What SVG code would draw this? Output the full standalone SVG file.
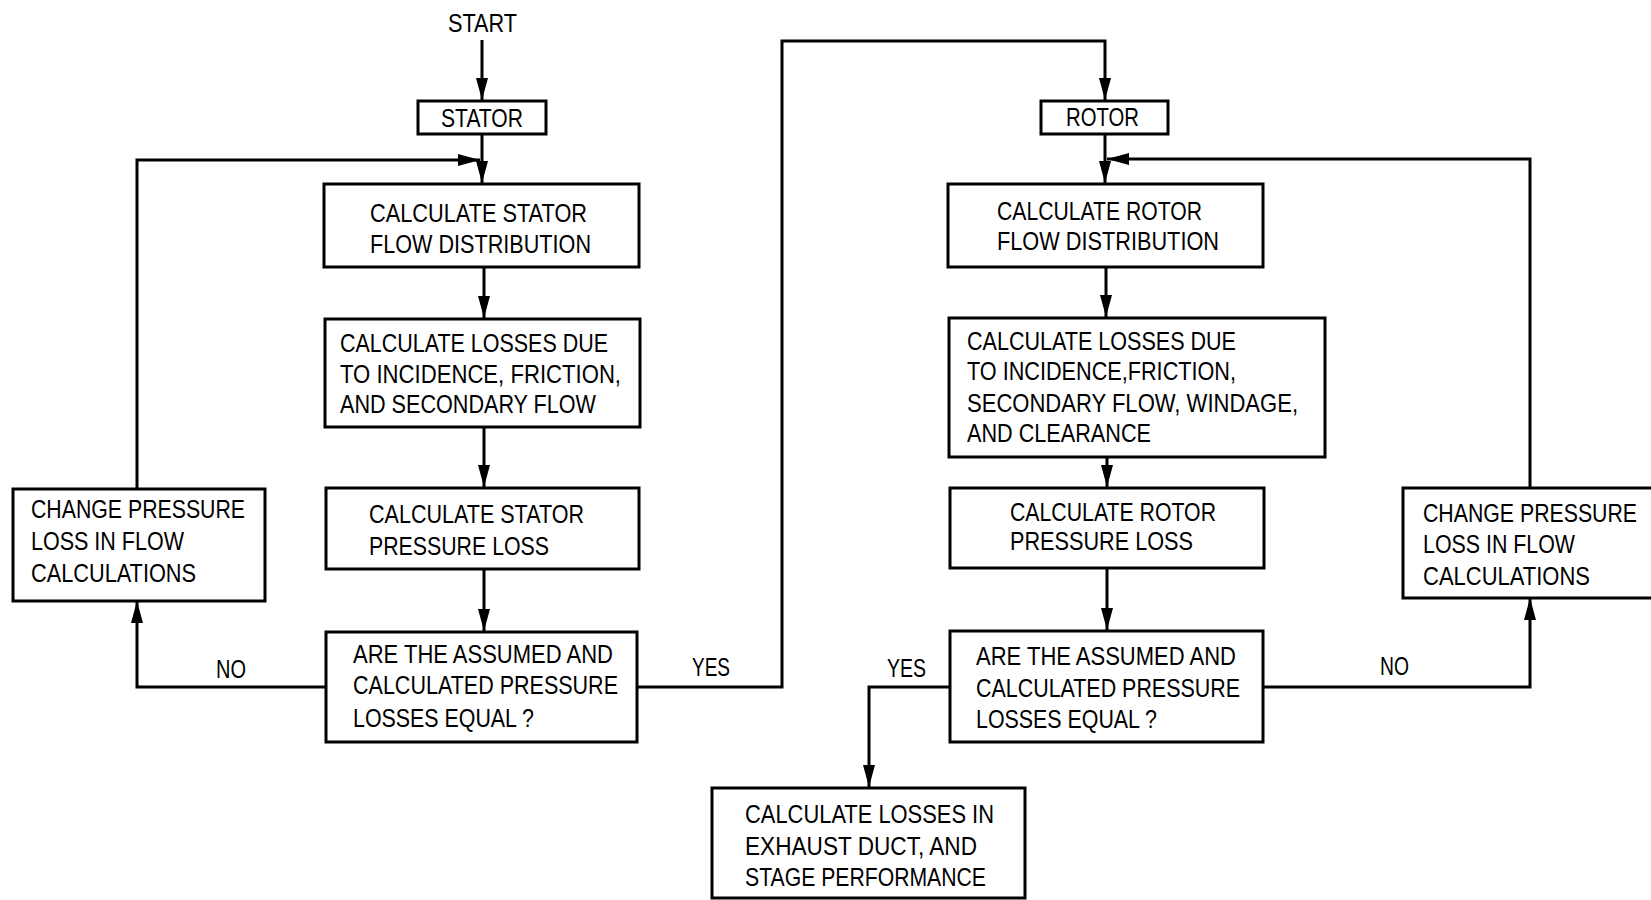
<svg xmlns="http://www.w3.org/2000/svg" width="1651" height="900" viewBox="0 0 1651 900">
<style>
.box{fill:#fff;stroke:#000;stroke-width:3}
.t{font-family:"Liberation Sans",Arial,sans-serif;font-size:26px;fill:#000}
.c{fill:none;stroke:#000;stroke-width:3;stroke-linejoin:miter}
</style>
<defs>
<marker id="ah" viewBox="0 0 22 12" markerWidth="22" markerHeight="12" refX="22" refY="6" orient="auto" markerUnits="userSpaceOnUse">
<path d="M0,0 L22,6 L0,12 Z" fill="#000"/>
</marker>
</defs>
<rect width="1651" height="900" fill="#fff"/>
<g id="connectors">
<path class="c" d="M482,40 V100" marker-end="url(#ah)"/>
<path class="c" d="M482,134 V183" marker-end="url(#ah)"/>
<path class="c" d="M137,489 V160 H480" marker-end="url(#ah)"/>
<path class="c" d="M484,267 V318" marker-end="url(#ah)"/>
<path class="c" d="M484,427 V487" marker-end="url(#ah)"/>
<path class="c" d="M484,569 V631" marker-end="url(#ah)"/>
<path class="c" d="M326,687 H137 V601" marker-end="url(#ah)"/>
<path class="c" d="M637,687 H782 V41 H1105 V100" marker-end="url(#ah)"/>
<path class="c" d="M1105,134 V183" marker-end="url(#ah)"/>
<path class="c" d="M1530,488 V159 H1107" marker-end="url(#ah)"/>
<path class="c" d="M1106,267 V317" marker-end="url(#ah)"/>
<path class="c" d="M1107,457 V487" marker-end="url(#ah)"/>
<path class="c" d="M1107,568 V630" marker-end="url(#ah)"/>
<path class="c" d="M950,687 H869 V787" marker-end="url(#ah)"/>
<path class="c" d="M1263,687 H1530 V598" marker-end="url(#ah)"/>
</g>
<g id="labels">
<text class="t" x="448" y="32" textLength="69" lengthAdjust="spacingAndGlyphs">START</text>
<text class="t" x="216" y="678" textLength="30" lengthAdjust="spacingAndGlyphs">NO</text>
<text class="t" x="692" y="676" textLength="38" lengthAdjust="spacingAndGlyphs">YES</text>
<text class="t" x="887" y="677" textLength="39" lengthAdjust="spacingAndGlyphs">YES</text>
<text class="t" x="1380" y="675" textLength="29" lengthAdjust="spacingAndGlyphs">NO</text>
</g>
<g id="stator">
<rect class="box" x="418" y="101" width="128" height="33"/>
<text class="t" x="441" y="127" textLength="82" lengthAdjust="spacingAndGlyphs">STATOR</text>
</g>
<g id="stator-flow">
<rect class="box" x="324" y="184" width="315" height="83"/>
<text class="t" x="370" y="222" textLength="217" lengthAdjust="spacingAndGlyphs">CALCULATE STATOR</text>
<text class="t" x="370" y="253" textLength="221" lengthAdjust="spacingAndGlyphs">FLOW DISTRIBUTION</text>
</g>
<g id="stator-losses">
<rect class="box" x="325" y="319" width="315" height="108"/>
<text class="t" x="340" y="352" textLength="268" lengthAdjust="spacingAndGlyphs">CALCULATE LOSSES DUE</text>
<text class="t" x="340" y="383" textLength="281" lengthAdjust="spacingAndGlyphs">TO INCIDENCE, FRICTION,</text>
<text class="t" x="340" y="413" textLength="256" lengthAdjust="spacingAndGlyphs">AND SECONDARY FLOW</text>
</g>
<g id="stator-pressure">
<rect class="box" x="326" y="488" width="313" height="81"/>
<text class="t" x="369" y="523" textLength="215" lengthAdjust="spacingAndGlyphs">CALCULATE STATOR</text>
<text class="t" x="369" y="555" textLength="180" lengthAdjust="spacingAndGlyphs">PRESSURE LOSS</text>
</g>
<g id="stator-decision">
<rect class="box" x="326" y="632" width="311" height="110"/>
<text class="t" x="353" y="663" textLength="260" lengthAdjust="spacingAndGlyphs">ARE THE ASSUMED AND</text>
<text class="t" x="353" y="694" textLength="265" lengthAdjust="spacingAndGlyphs">CALCULATED PRESSURE</text>
<text class="t" x="353" y="727" textLength="181" lengthAdjust="spacingAndGlyphs">LOSSES EQUAL ?</text>
</g>
<g id="stator-change">
<rect class="box" x="13" y="489" width="252" height="112"/>
<text class="t" x="31" y="518" textLength="214" lengthAdjust="spacingAndGlyphs">CHANGE PRESSURE</text>
<text class="t" x="31" y="550" textLength="153" lengthAdjust="spacingAndGlyphs">LOSS IN FLOW</text>
<text class="t" x="31" y="582" textLength="165" lengthAdjust="spacingAndGlyphs">CALCULATIONS</text>
</g>
<g id="rotor">
<rect class="box" x="1041" y="101" width="127" height="33"/>
<text class="t" x="1066" y="126" textLength="73" lengthAdjust="spacingAndGlyphs">ROTOR</text>
</g>
<g id="rotor-flow">
<rect class="box" x="948" y="184" width="315" height="83"/>
<text class="t" x="997" y="220" textLength="205" lengthAdjust="spacingAndGlyphs">CALCULATE ROTOR</text>
<text class="t" x="997" y="250" textLength="222" lengthAdjust="spacingAndGlyphs">FLOW DISTRIBUTION</text>
</g>
<g id="rotor-losses">
<rect class="box" x="949" y="318" width="376" height="139"/>
<text class="t" x="967" y="350" textLength="269" lengthAdjust="spacingAndGlyphs">CALCULATE LOSSES DUE</text>
<text class="t" x="967" y="380" textLength="269" lengthAdjust="spacingAndGlyphs">TO INCIDENCE,FRICTION,</text>
<text class="t" x="967" y="412" textLength="331" lengthAdjust="spacingAndGlyphs">SECONDARY FLOW, WINDAGE,</text>
<text class="t" x="967" y="442" textLength="184" lengthAdjust="spacingAndGlyphs">AND CLEARANCE</text>
</g>
<g id="rotor-pressure">
<rect class="box" x="950" y="488" width="314" height="80"/>
<text class="t" x="1010" y="521" textLength="206" lengthAdjust="spacingAndGlyphs">CALCULATE ROTOR</text>
<text class="t" x="1010" y="550" textLength="183" lengthAdjust="spacingAndGlyphs">PRESSURE LOSS</text>
</g>
<g id="rotor-decision">
<rect class="box" x="950" y="631" width="313" height="111"/>
<text class="t" x="976" y="665" textLength="260" lengthAdjust="spacingAndGlyphs">ARE THE ASSUMED AND</text>
<text class="t" x="976" y="697" textLength="264" lengthAdjust="spacingAndGlyphs">CALCULATED PRESSURE</text>
<text class="t" x="976" y="728" textLength="181" lengthAdjust="spacingAndGlyphs">LOSSES EQUAL ?</text>
</g>
<g id="rotor-change">
<path class="box" d="M1651,488 H1403 V598 H1651"/>
<text class="t" x="1423" y="522" textLength="214" lengthAdjust="spacingAndGlyphs">CHANGE PRESSURE</text>
<text class="t" x="1423" y="553" textLength="152" lengthAdjust="spacingAndGlyphs">LOSS IN FLOW</text>
<text class="t" x="1423" y="585" textLength="167" lengthAdjust="spacingAndGlyphs">CALCULATIONS</text>
</g>
<g id="exhaust">
<rect class="box" x="712" y="788" width="313" height="110"/>
<text class="t" x="745" y="823" textLength="249" lengthAdjust="spacingAndGlyphs">CALCULATE LOSSES IN</text>
<text class="t" x="745" y="855" textLength="232" lengthAdjust="spacingAndGlyphs">EXHAUST DUCT, AND</text>
<text class="t" x="745" y="886" textLength="241" lengthAdjust="spacingAndGlyphs">STAGE PERFORMANCE</text>
</g>
</svg>
